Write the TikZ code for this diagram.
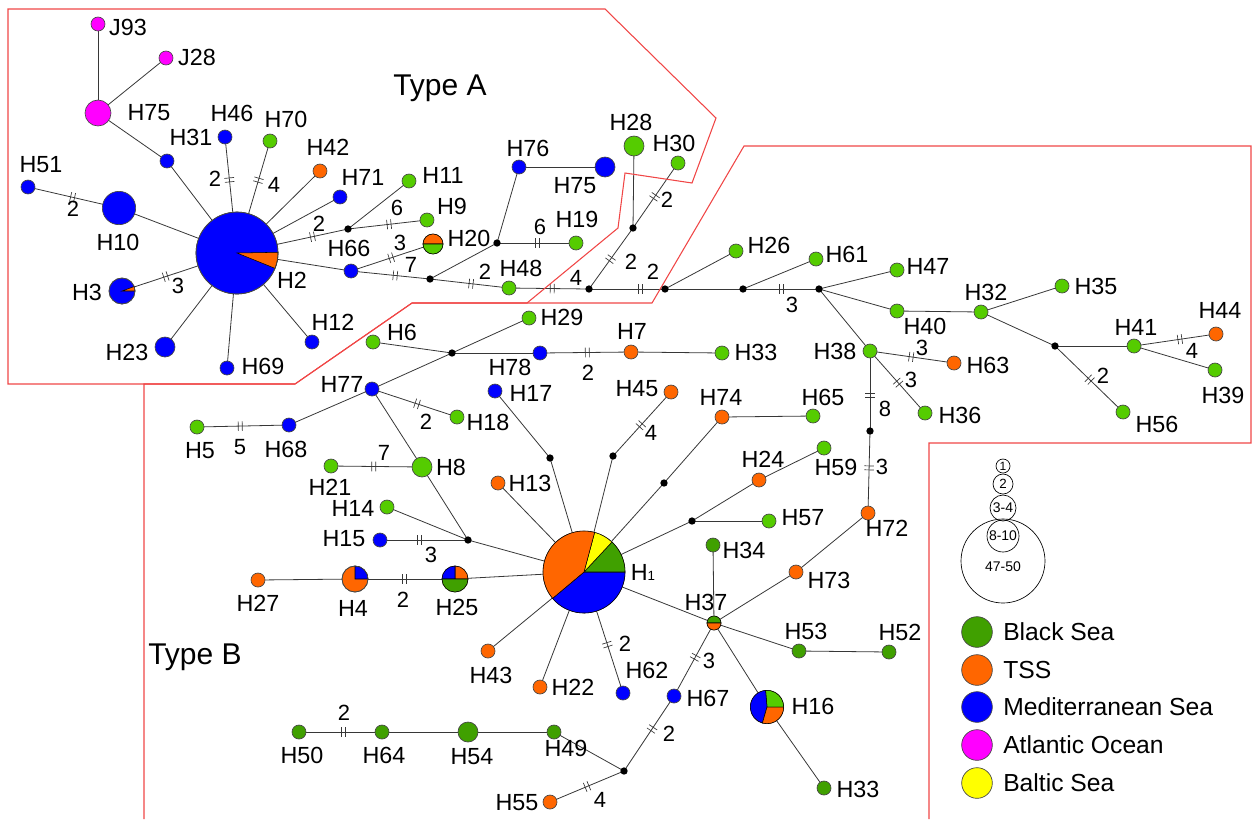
\documentclass[tikz,border=0pt]{standalone}
\usepackage{fontspec}
\setmainfont{Liberation Sans}
\usetikzlibrary{backgrounds,decorations.markings}
\definecolor{dg}{RGB}{64,160,0}
\definecolor{lg}{RGB}{85,204,0}
\definecolor{orng}{RGB}{255,102,0}
\definecolor{blu}{RGB}{0,0,255}
\definecolor{mag}{RGB}{255,0,255}
\definecolor{yel}{RGB}{255,255,0}
\definecolor{edgecol}{RGB}{55,55,55}
\definecolor{nodeline}{RGB}{70,70,70}
\definecolor{boxred}{RGB}{240,70,70}
\newcommand\pieslice[5]{\fill[#1,draw=black,line width=0.4pt] (#2) -- ++(#3:#5) arc[start angle=#3,end angle=#4,radius=#5] -- cycle;}
\tikzset{
  hap/.style={circle,draw=nodeline,line width=0.5pt,inner sep=0pt,minimum size=10.5pt,fill=#1},
  rtwo/.style={minimum size=15pt},
  rthree/.style={minimum size=19.5pt},
  rfour/.style={minimum size=25pt},
  rbig/.style={minimum size=61.5pt},
  jn/.style={circle,fill=black,inner sep=0pt,minimum size=5.5pt},
  lab/.style={font=\fontsize{17.5}{17.5}\selectfont,inner sep=0pt},
  num/.style={font=\fontsize{16.5}{16.5}\selectfont,inner sep=0pt},
  typ/.style={font=\fontsize{22.5}{22.5}\selectfont,inner sep=0pt},
  leg/.style={font=\fontsize{18.5}{18.5}\selectfont,inner sep=0pt,anchor=west},
  lnk/.style={draw=edgecol,line width=0.6pt},
  mut/.style={postaction={decorate,decoration={markings,mark=at position #1 with {\draw[edgecol,line width=0.5pt] (-1.5pt,-3.6pt)--(-1.5pt,3.6pt) (1.5pt,-3.6pt)--(1.5pt,3.6pt);}}}},
  sizec/.style={circle,draw=black,line width=0.5pt,inner sep=0pt},
}
\begin{document}
\begin{tikzpicture}[x=0.75pt,y=-0.75pt]
\useasboundingbox (0,0) rectangle (1259,819);
% region boxes
\draw[boxred,line width=0.8pt] (8,9) -- (605,9) -- (716,118) -- (692,183) -- (625,173) -- (618,228) -- (527,303) -- (412,303) -- (295,384) -- (8,384) -- cycle;
\draw[boxred,line width=0.8pt] (144,819) -- (144,384) -- (295,384) -- (412,303) -- (652,303) -- (744,146) -- (1251,146) -- (1251,443) -- (929,443) -- (929,819);
\node[typ] (typeA) at (440,88) {Type A};
\node[typ] (typeB) at (195,657) {Type B};

% ---------- nodes: Type A ----------
\node[hap=mag] (J93) at (98,24) {};
\node[hap=mag] (J28) at (166,58) {};
\node[hap=mag,rthree] (H75p) at (98,113) {};
\node[hap=blu] (H31) at (167,161) {};
\node[hap=blu] (H46) at (225,137) {};
\node[hap=lg] (H70) at (270,141) {};
\node[hap=orng] (H42) at (320,171) {};
\node[hap=blu] (H71) at (340,197) {};
\node[hap=blu] (H51) at (28,187) {};
\node[hap=blu,rfour] (H10) at (119,208) {};
\node[hap=blu,rbig] (H2) at (237,253) {};
\node[hap=blu,rthree] (H3) at (122,291) {};
\node[hap=blu,rtwo] (H23) at (165,347) {};
\node[hap=blu] (H69) at (227,368) {};
\node[hap=blu] (H12) at (312,342) {};
\node[hap=blu] (H66) at (351,271) {};
\node[jn] (J1) at (348,229) {};
\node[hap=lg] (H11) at (409,181) {};
\node[hap=lg] (H9) at (427,220) {};
\node[hap=lg,rtwo] (H20) at (433,244) {};
\node[jn] (J2) at (430,279) {};
\node[jn] (J3) at (497,243) {};
\node[hap=blu] (H76) at (519,167) {};
\node[hap=blu,rtwo] (H75b) at (605,167) {};
\node[hap=lg] (H19) at (576,243) {};
\node[hap=lg] (H48) at (509,288) {};
\node[jn] (J4) at (589,289) {};
\node[jn] (J5) at (633,228) {};
\node[hap=lg,rtwo] (H28) at (634,146) {};
\node[hap=lg] (H30) at (678,163) {};
% ---------- right branch ----------
\node[jn] (Ja) at (665,289) {};
\node[jn] (Jb) at (743,289) {};
\node[jn] (Jc) at (819,289) {};
\node[jn] (Jd) at (1055,346) {};
\node[jn] (Je) at (870,431) {};
\node[hap=lg] (H26) at (736,251) {};
\node[hap=lg] (H61) at (816,259) {};
\node[hap=lg] (H47) at (897,270) {};
\node[hap=lg] (H40) at (897,311) {};
\node[hap=lg] (H32) at (981,312) {};
\node[hap=lg] (H35) at (1062,286) {};
\node[hap=lg] (H41) at (1134,346) {};
\node[hap=orng] (H44) at (1216,334) {};
\node[hap=lg] (H39) at (1215,370) {};
\node[hap=lg] (H56) at (1123,412) {};
\node[hap=lg] (H38) at (870,351) {};
\node[hap=orng] (H63) at (954,363) {};
\node[hap=lg] (H36) at (925,413) {};
\node[hap=orng] (H72) at (868,513) {};
% ---------- middle ----------
\node[jn] (Jm) at (452,353) {};
\node[hap=lg] (H6) at (373,342) {};
\node[hap=lg] (H29) at (529,318) {};
\node[hap=blu] (H78) at (540,353) {};
\node[hap=orng] (H7) at (631,352) {};
\node[hap=lg] (H33a) at (722,353) {};
\node[hap=blu] (H77) at (372,389) {};
\node[hap=blu] (H68) at (289,425) {};
\node[hap=lg] (H5) at (197,427) {};
\node[hap=lg] (H18) at (457,417) {};
\node[hap=lg,rtwo] (H8) at (422,467) {};
\node[hap=lg] (H21) at (331,466) {};
\node[hap=lg] (H14) at (387,507) {};
\node[hap=blu] (H15) at (380,540) {};
\node[jn] (Jf) at (468,540) {};
\node[hap=orng] (H13) at (498,483) {};
\node[hap=orng] (H27) at (258,580) {};
\node[hap=orng,rthree] (H4) at (355,579) {};
\node[hap=orng,rthree] (H25) at (455,579) {};
\node[hap=orng,rbig] (H1) at (584,572) {};
\node[hap=blu] (H17) at (495,391) {};
\node[jn] (Jg) at (550,458) {};
\node[hap=orng] (H45) at (671,392) {};
\node[jn] (Jh) at (613,456) {};
\node[hap=orng] (H74) at (722,417) {};
\node[jn] (Ji) at (664,483) {};
\node[hap=lg] (H65) at (813,416) {};
\node[jn] (Jk) at (692,521) {};
\node[hap=orng] (H24) at (759,480) {};
\node[hap=lg] (H59) at (824,448) {};
\node[hap=lg] (H57) at (769,521) {};
\node[hap=dg] (H34) at (713,545) {};
\node[hap=orng] (H73) at (796,572) {};
\node[hap=orng] (H37) at (714,623) {};
\node[hap=dg] (H53) at (799,651) {};
\node[hap=dg] (H52) at (889,652) {};
\node[hap=orng] (H43) at (488,651) {};
\node[hap=orng] (H22) at (540,687) {};
\node[hap=blu] (H62) at (623,693) {};
\node[hap=blu] (H67) at (674,696) {};
\node[hap=orng,rfour] (H16) at (767,707) {};
\node[hap=dg] (H33b) at (824,788) {};
\node[hap=dg] (H49) at (554,732) {};
\node[jn] (Jl) at (624,771) {};
\node[hap=orng] (H55) at (550,802) {};
\node[hap=dg,rtwo] (H54) at (468,732) {};
\node[hap=dg] (H64) at (382,732) {};
\node[hap=dg] (H50) at (299,732) {};

% ---------- pies ----------
\pieslice{orng}{H2.center}{-22}{1}{30.75pt}
\draw[nodeline,line width=0.5pt] (H2.center) circle[radius=30.75pt];
\pieslice{orng}{H3.center}{0}{20}{9.75pt}
\draw[nodeline,line width=0.5pt] (H3.center) circle[radius=9.75pt];
\pieslice{orng}{H20.center}{0}{180}{7.5pt}
\pieslice{lg}{H20.center}{180}{360}{7.5pt}
\pieslice{blu}{H4.center}{0}{90}{9.75pt}
\draw[nodeline,line width=0.5pt] (H4.center) circle[radius=9.75pt];
\pieslice{orng}{H25.center}{0}{90}{9.75pt}
\pieslice{blu}{H25.center}{90}{180}{9.75pt}
\pieslice{dg}{H25.center}{180}{360}{9.75pt}
\pieslice{blu}{H1.center}{220}{360}{30.75pt}
\pieslice{dg}{H1.center}{0}{47}{30.75pt}
\pieslice{yel}{H1.center}{47}{75}{30.75pt}
\pieslice{orng}{H1.center}{75}{220}{30.75pt}
\pieslice{dg}{H37.center}{0}{180}{5.25pt}
\pieslice{orng}{H37.center}{180}{360}{5.25pt}
\pieslice{lg}{H16.center}{0}{95}{12.5pt}
\pieslice{blu}{H16.center}{95}{254}{12.5pt}
\pieslice{orng}{H16.center}{254}{360}{12.5pt}

% ---------- edges ----------
\begin{pgfonlayer}{background}
\draw[lnk] (J93.center) -- (H75p.center);
\draw[lnk] (J28.center) -- (H75p.center);
\draw[lnk] (H75p.center) -- (H31.center);
\draw[lnk] (H31.center) -- (H2.center);
\draw[lnk,mut=0.37] (H46.center) -- (H2.center);
\draw[lnk,mut=0.35] (H70.center) -- (H2.center);
\draw[lnk] (H42.center) -- (H2.center);
\draw[lnk] (H71.center) -- (H2.center);
\draw[lnk] (H10.center) -- (H2.center);
\draw[lnk,mut=0.49] (H51.center) -- (H10.center);
\draw[lnk,mut=0.38] (H3.center) -- (H2.center);
\draw[lnk] (H23.center) -- (H2.center);
\draw[lnk] (H69.center) -- (H2.center);
\draw[lnk] (H12.center) -- (H2.center);
\draw[lnk,mut=0.68] (H2.center) -- (J1.center);
\draw[lnk] (J1.center) -- (H11.center);
\draw[lnk,mut=0.52] (J1.center) -- (H9.center);
\draw[lnk] (H2.center) -- (H66.center);
\draw[lnk,mut=0.49] (H66.center) -- (H20.center);
\draw[lnk,mut=0.56] (H66.center) -- (J2.center);
\draw[lnk] (J2.center) -- (J3.center);
\draw[lnk] (J3.center) -- (H76.center);
\draw[lnk,mut=0.51] (J3.center) -- (H19.center);
\draw[lnk] (H76.center) -- (H75b.center);
\draw[lnk,mut=0.52] (J2.center) -- (H48.center);
\draw[lnk,mut=0.54] (H48.center) -- (J4.center);
\draw[lnk,mut=0.49] (J4.center) -- (J5.center);
\draw[lnk] (J5.center) -- (H28.center);
\draw[lnk,mut=0.48] (J5.center) -- (H30.center);
\draw[lnk,mut=0.68] (J4.center) -- (Ja.center);
\draw[lnk] (Ja.center) -- (H26.center);
\draw[lnk] (Ja.center) -- (Jb.center);
\draw[lnk] (Jb.center) -- (H61.center);
\draw[lnk,mut=0.51] (Jb.center) -- (Jc.center);
\draw[lnk] (Jc.center) -- (H47.center);
\draw[lnk] (Jc.center) -- (H40.center);
\draw[lnk] (H40.center) -- (H32.center);
\draw[lnk] (H32.center) -- (H35.center);
\draw[lnk] (H32.center) -- (Jd.center);
\draw[lnk] (Jd.center) -- (H41.center);
\draw[lnk,mut=0.56] (H41.center) -- (H44.center);
\draw[lnk] (H41.center) -- (H39.center);
\draw[lnk,mut=0.51] (Jd.center) -- (H56.center);
\draw[lnk] (Jc.center) -- (H38.center);
\draw[lnk,mut=0.49] (H38.center) -- (H63.center);
\draw[lnk,mut=0.51] (H38.center) -- (H36.center);
\draw[lnk,mut=0.55] (H38.center) -- (Je.center);
\draw[lnk,mut=0.45] (Je.center) -- (H72.center);
\draw[lnk] (H72.center) -- (H73.center);
\draw[lnk] (H73.center) -- (H37.center);
\draw[lnk] (H37.center) -- (H34.center);
\draw[lnk] (H37.center) -- (H53.center);
\draw[lnk] (H53.center) -- (H52.center);
\draw[lnk] (H37.center) -- (H16.center);
\draw[lnk] (H16.center) -- (H33b.center);
\draw[lnk,mut=0.47] (H37.center) -- (H67.center);
\draw[lnk,mut=0.44] (H67.center) -- (Jl.center);
\draw[lnk] (Jl.center) -- (H49.center);
\draw[lnk,mut=0.5] (Jl.center) -- (H55.center);
\draw[lnk] (H49.center) -- (H54.center);
\draw[lnk] (H54.center) -- (H64.center);
\draw[lnk,mut=0.47] (H64.center) -- (H50.center);
\draw[lnk] (H1.center) -- (H37.center);
\draw[lnk] (H1.center) -- (H43.center);
\draw[lnk] (H1.center) -- (H22.center);
\draw[lnk,mut=0.60] (H1.center) -- (H62.center);
\draw[lnk] (H1.center) -- (Jk.center);
\draw[lnk] (Jk.center) -- (H24.center);
\draw[lnk] (H24.center) -- (H59.center);
\draw[lnk] (Jk.center) -- (H57.center);
\draw[lnk] (H1.center) -- (Ji.center);
\draw[lnk] (Ji.center) -- (H74.center);
\draw[lnk] (H74.center) -- (H65.center);
\draw[lnk] (H1.center) -- (Jh.center);
\draw[lnk,mut=0.52] (H45.center) -- (Jh.center);
\draw[lnk] (H1.center) -- (Jg.center);
\draw[lnk] (Jg.center) -- (H17.center);
\draw[lnk] (H1.center) -- (H13.center);
\draw[lnk] (H1.center) -- (Jf.center);
\draw[lnk] (Jf.center) -- (H8.center);
\draw[lnk] (Jf.center) -- (H14.center);
\draw[lnk,mut=0.45] (H15.center) -- (Jf.center);
\draw[lnk] (H1.center) -- (H25.center);
\draw[lnk,mut=0.49] (H4.center) -- (H25.center);
\draw[lnk] (H4.center) -- (H27.center);
\draw[lnk] (H8.center) -- (H77.center);
\draw[lnk,mut=0.47] (H21.center) -- (H8.center);
\draw[lnk] (H77.center) -- (H68.center);
\draw[lnk,mut=0.47] (H5.center) -- (H68.center);
\draw[lnk,mut=0.53] (H77.center) -- (H18.center);
\draw[lnk] (H77.center) -- (Jm.center);
\draw[lnk] (Jm.center) -- (H6.center);
\draw[lnk] (Jm.center) -- (H29.center);
\draw[lnk] (Jm.center) -- (H78.center);
\draw[lnk,mut=0.52] (H78.center) -- (H7.center);
\draw[lnk] (H7.center) -- (H33a.center);
\end{pgfonlayer}

% ---------- mutation numbers ----------
\node[num] (m1) at (215,179) {2};
\node[num] (m2) at (274,185) {4};
\node[num] (m3) at (73,209) {2};
\node[num] (m4) at (178,286) {3};
\node[num] (m5) at (319,224) {2};
\node[num] (m6) at (397,208) {6};
\node[num] (m7) at (400,243) {3};
\node[num] (m8) at (411,265) {7};
\node[num] (m9) at (540,227) {6};
\node[num] (m10) at (485,272) {2};
\node[num] (m11) at (576,278) {4};
\node[num] (m12) at (631,262) {2};
\node[num] (m13) at (667,200) {2};
\node[num] (m14) at (653,272) {2};
\node[num] (m15) at (792,305) {3};
\node[num] (m16) at (1192,351) {4};
\node[num] (m17) at (1103,376) {2};
\node[num] (m18) at (922,348) {3};
\node[num] (m19) at (911,380) {3};
\node[num] (m20) at (885,409) {8};
\node[num] (m21) at (882,467) {3};
\node[num] (m22) at (588,373) {2};
\node[num] (m23) at (240,447) {5};
\node[num] (m24) at (426,422) {2};
\node[num] (m25) at (384,453) {7};
\node[num] (m26) at (431,555) {3};
\node[num] (m27) at (403,600) {2};
\node[num] (m28) at (651,433) {4};
\node[num] (m29) at (709,661) {3};
\node[num] (m30) at (669,734) {2};
\node[num] (m31) at (600,800) {4};
\node[num] (m32) at (344,713) {2};
\node[num] (m33) at (625,644) {2};

% ---------- haplotype labels ----------
\node[lab] (tJ93) at (128,27) {J93};
\node[lab] (tJ28) at (197,57) {J28};
\node[lab] (tH75p) at (149,113) {H75};
\node[lab] (tH31) at (191,137) {H31};
\node[lab] (tH46) at (232,113) {H46};
\node[lab] (tH70) at (286,119) {H70};
\node[lab] (tH42) at (328,147) {H42};
\node[lab] (tH71) at (363,177) {H71};
\node[lab] (tH51) at (41,165) {H51};
\node[lab] (tH10) at (118,242) {H10};
\node[lab] (tH2) at (292,280) {H2};
\node[lab] (tH3) at (87,292) {H3};
\node[lab] (tH23) at (127,352) {H23};
\node[lab] (tH69) at (263,366) {H69};
\node[lab] (tH12) at (333,322) {H12};
\node[lab] (tH66) at (349,248) {H66};
\node[lab] (tH11) at (443,175) {H11};
\node[lab] (tH9) at (452,206) {H9};
\node[lab] (tH20) at (469,238) {H20};
\node[lab] (tH76) at (528,148) {H76};
\node[lab] (tH75b) at (575,186) {H75};
\node[lab] (tH28) at (631,122) {H28};
\node[lab] (tH30) at (674,143) {H30};
\node[lab] (tH19) at (577,219) {H19};
\node[lab] (tH48) at (521,268) {H48};
\node[lab] (tH26) at (769,245) {H26};
\node[lab] (tH61) at (847,254) {H61};
\node[lab] (tH47) at (928,266) {H47};
\node[lab] (tH40) at (925,326) {H40};
\node[lab] (tH32) at (986,292) {H32};
\node[lab] (tH35) at (1096,286) {H35};
\node[lab] (tH44) at (1220,310) {H44};
\node[lab] (tH41) at (1136,327) {H41};
\node[lab] (tH39) at (1223,395) {H39};
\node[lab] (tH56) at (1157,424) {H56};
\node[lab] (tH38) at (835,351) {H38};
\node[lab] (tH63) at (988,365) {H63};
\node[lab] (tH36) at (960,415) {H36};
\node[lab] (tH6) at (402,332) {H6};
\node[lab] (tH29) at (562,317) {H29};
\node[lab] (tH78) at (510,367) {H78};
\node[lab] (tH7) at (632,331) {H7};
\node[lab] (tH33a) at (756,352) {H33};
\node[lab] (tH17) at (531,393) {H17};
\node[lab] (tH45) at (637,389) {H45};
\node[lab] (tH77) at (342,384) {H77};
\node[lab] (tH68) at (286,449) {H68};
\node[lab] (tH5) at (200,451) {H5};
\node[lab] (tH18) at (488,422) {H18};
\node[lab] (tH21) at (330,487) {H21};
\node[lab] (tH8) at (451,467) {H8};
\node[lab] (tH14) at (353,508) {H14};
\node[lab] (tH15) at (344,539) {H15};
\node[lab] (tH13) at (530,483) {H13};
\node[lab] (tH27) at (258,603) {H27};
\node[lab] (tH4) at (353,608) {H4};
\node[lab] (tH25) at (457,607) {H25};
\node[lab] (tH1) at (643,572) {H{\fontsize{10}{10}\selectfont 1}};
\node[lab] (tH74) at (721,397) {H74};
\node[lab] (tH65) at (823,397) {H65};
\node[lab] (tH24) at (763,459) {H24};
\node[lab] (tH59) at (836,467) {H59};
\node[lab] (tH57) at (803,518) {H57};
\node[lab] (tH72) at (887,528) {H72};
\node[lab] (tH34) at (744,550) {H34};
\node[lab] (tH73) at (829,580) {H73};
\node[lab] (tH37) at (706,602) {H37};
\node[lab] (tH53) at (806,631) {H53};
\node[lab] (tH52) at (900,632) {H52};
\node[lab] (tH43) at (491,675) {H43};
\node[lab] (tH22) at (573,687) {H22};
\node[lab] (tH62) at (647,670) {H62};
\node[lab] (tH67) at (708,698) {H67};
\node[lab] (tH16) at (813,706) {H16};
\node[lab] (tH49) at (566,748) {H49};
\node[lab] (tH55) at (517,803) {H55};
\node[lab] (tH33b) at (858,789) {H33};
\node[lab] (tH50) at (302,755) {H50};
\node[lab] (tH64) at (384,755) {H64};
\node[lab] (tH54) at (472,757) {H54};

% ---------- legend ----------
\node[sizec,minimum size=63pt] (c4750) at (1003,561) {};
\node[sizec,minimum size=24pt] (c810) at (1003,536) {};
\node[sizec,minimum size=19.5pt] (c34) at (1003,508) {};
\node[sizec,minimum size=15pt] (c2) at (1003,484) {};
\node[sizec,minimum size=10.5pt] (c1) at (1003,466) {};
\node[font=\fontsize{9}{9}\selectfont,inner sep=0pt] (t1) at (1003,466) {1};
\node[font=\fontsize{10}{10}\selectfont,inner sep=0pt] (t2) at (1003,484) {2};
\node[font=\fontsize{10.5}{10.5}\selectfont,inner sep=0pt] (t34) at (1003,508) {3-4};
\node[font=\fontsize{10.5}{10.5}\selectfont,inner sep=0pt] (t810) at (1003,536) {8-10};
\node[font=\fontsize{10.5}{10.5}\selectfont,inner sep=0pt] (t4750) at (1003,567) {47-50};
\node[hap=dg,minimum size=23pt] (lg1) at (977,632) {};
\node[hap=orng,minimum size=23pt] (lg2) at (977,670) {};
\node[hap=blu,minimum size=23pt] (lg3) at (977,707) {};
\node[hap=mag,minimum size=23pt] (lg4) at (977,745) {};
\node[hap=yel,minimum size=23pt] (lg5) at (977,783) {};
\node[leg] (lt1) at (1003,632) {Black Sea};
\node[leg] (lt2) at (1003,670) {TSS};
\node[leg] (lt3) at (1003,707) {Mediterranean Sea};
\node[leg] (lt4) at (1003,745) {Atlantic Ocean};
\node[leg] (lt5) at (1003,783) {Baltic Sea};
\end{tikzpicture}
\end{document}
